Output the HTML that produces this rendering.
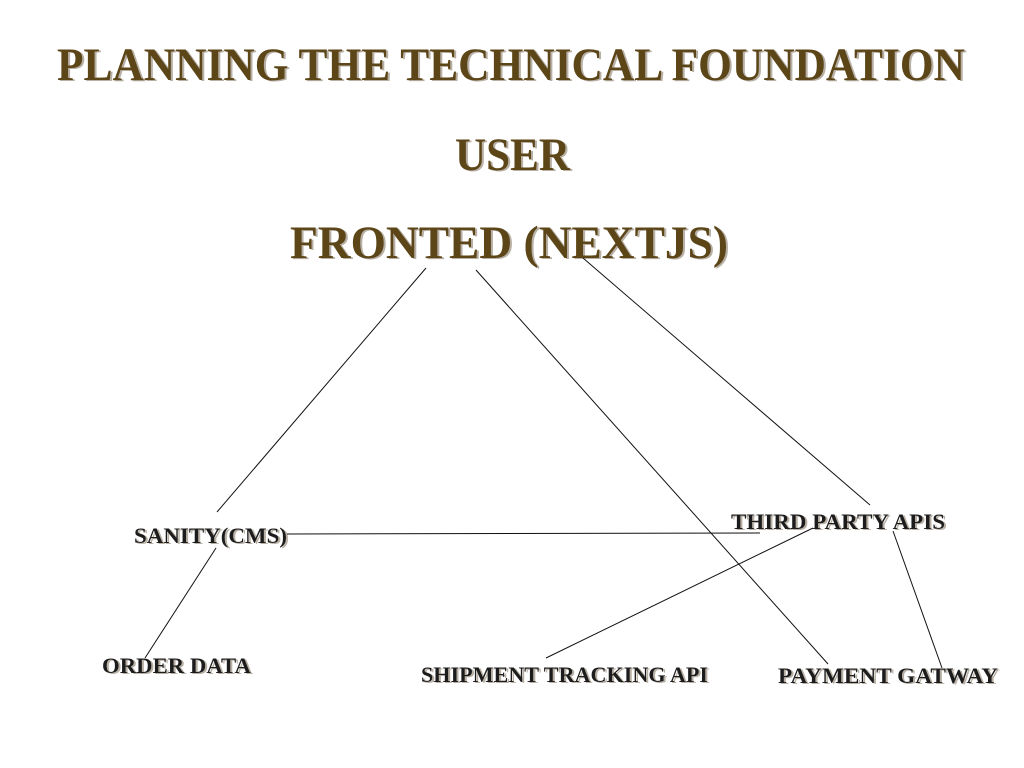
<!DOCTYPE html>
<html><head><style>html,body{margin:0;padding:0;background:#fff;}svg{display:block}</style></head>
<body>
<svg width="1024" height="768" xmlns="http://www.w3.org/2000/svg">
<defs>
<filter id="s" x="-5%" y="-20%" width="110%" height="140%"><feDropShadow dx="2" dy="1" stdDeviation="0.3" flood-color="#b8b0a4"/></filter>
</defs>
<g font-family="Liberation Serif, serif" font-weight="bold" fill="#5c4514" filter="url(#s)">
<text x="57" y="80" font-size="47" textLength="908" lengthAdjust="spacingAndGlyphs">PLANNING THE TECHNICAL FOUNDATION</text>
<text x="455" y="170" font-size="47" textLength="115" lengthAdjust="spacingAndGlyphs">USER</text>
<text x="290" y="258" font-size="47" textLength="438" lengthAdjust="spacingAndGlyphs">FRONTED (NEXTJS)</text>
</g>
<g font-family="Liberation Serif, serif" font-weight="bold" fill="#1a1a1a" font-size="22" filter="url(#s)">
<text x="134" y="543" textLength="153" lengthAdjust="spacingAndGlyphs">SANITY(CMS)</text>
<text x="731" y="529" textLength="214" lengthAdjust="spacingAndGlyphs">THIRD PARTY APIS</text>
<text x="102" y="673" textLength="149" lengthAdjust="spacingAndGlyphs">ORDER DATA</text>
<text x="421" y="682" textLength="287" lengthAdjust="spacingAndGlyphs">SHIPMENT TRACKING API</text>
<text x="778" y="683" textLength="220" lengthAdjust="spacingAndGlyphs">PAYMENT GATWAY</text>
</g>
<g stroke="#111" stroke-width="1" fill="none">
<line x1="426" y1="268" x2="217" y2="512"/>
<line x1="216" y1="548" x2="145" y2="658"/>
<line x1="476" y1="270" x2="828" y2="664"/>
<line x1="583" y1="258" x2="870" y2="505"/>
<line x1="287" y1="534" x2="760" y2="533"/>
<line x1="813" y1="528" x2="546" y2="658"/>
<line x1="893" y1="531" x2="942" y2="668"/>
</g>
</svg>
</body></html>
